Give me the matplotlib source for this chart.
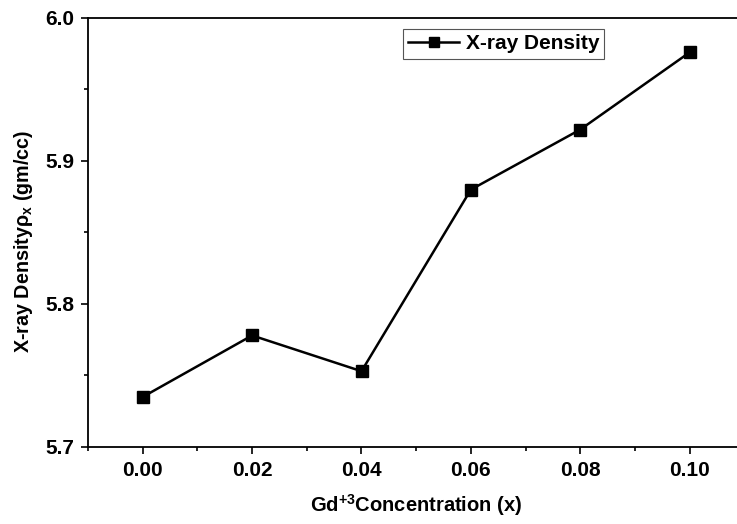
import matplotlib
matplotlib.use("Agg")
import matplotlib.pyplot as plt
from matplotlib.ticker import MultipleLocator

# data
gd_conc = [0.00, 0.02, 0.04, 0.06, 0.08, 0.10]
xray_density = [5.735, 5.778, 5.753, 5.880, 5.922, 5.976]

plt.rcParams.update({
    "font.family": ["Liberation Sans", "DejaVu Sans"],
    "font.weight": "bold",
    "axes.labelweight": "bold",
    "mathtext.fontset": "custom",
    "mathtext.rm": "Liberation Sans:bold",
    "mathtext.it": "Liberation Sans",
    "mathtext.bf": "Liberation Sans:bold",
})

fig = plt.figure(figsize=(7.37, 5.24), dpi=100)
# axes run past the right edge like in the (cropped) reference
ax = fig.add_axes([88 / 737, 77 / 524, 656.4 / 737, 429 / 524])

ax.plot(gd_conc, xray_density, color="black", lw=1.8, marker="s", ms=8.5,
        label="X-ray Density")

ax.set_xlim(-0.01, 0.11)
ax.set_ylim(5.7, 6.0)
ax.xaxis.set_major_locator(MultipleLocator(0.02))
ax.xaxis.set_minor_locator(MultipleLocator(0.01))
ax.yaxis.set_major_locator(MultipleLocator(0.1))
ax.yaxis.set_minor_locator(MultipleLocator(0.05))
ax.xaxis.set_major_formatter(lambda v, p: f"{v:.2f}")
ax.yaxis.set_major_formatter(lambda v, p: f"{v:.1f}")

ax.tick_params(which="both", direction="out", width=1.2, labelsize=15)
ax.tick_params(which="major", length=5, pad=5)
ax.tick_params(which="minor", length=3)
ax.tick_params(axis="x", which="both", top=False)
for spine in ax.spines.values():
    spine.set_linewidth(1.3)

ax.set_xlabel(r"Gd$\mathrm{^{+3}}$Concentration (x)", fontsize=14.5, labelpad=9)
ax.set_ylabel(r"X-ray Density$\rho_x$ (gm/cc)", fontsize=14.2)
ax.yaxis.set_label_coords(-0.081, 0.479)

leg = ax.legend(loc="upper left", bbox_to_anchor=(0.48, 0.974), fontsize=15,
                fancybox=False, framealpha=1, edgecolor="#555555",
                handlelength=2.45, borderpad=0.25, handletextpad=0.3,
                borderaxespad=0, markerscale=0.8)
leg.get_frame().set_linewidth(0.8)

fig.savefig("out.png", dpi=100)
